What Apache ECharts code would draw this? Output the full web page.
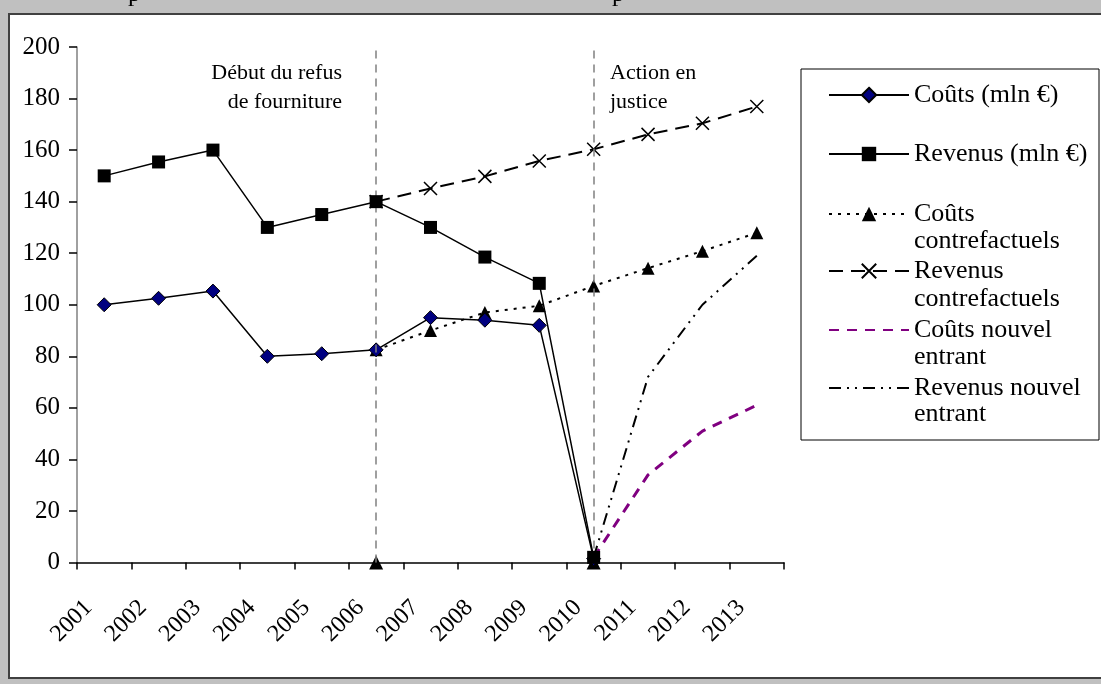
<!DOCTYPE html>
<html>
<head>
<meta charset="utf-8">
<script src="https://cdn.jsdelivr.net/npm/echarts@6/dist/echarts.min.js"></script>
<style>
  html, body { margin: 0; padding: 0; background: #c0c0c0; }
  #chart { width: 1101px; height: 684px; }
</style>
</head>
<body>
<div id="chart"></div>
<script>
// données (mln €)
const years = ['2001', '2002', '2003', '2004', '2005', '2006', '2007', '2008', '2009', '2010', '2011', '2012', '2013'];
const couts = [100, 102.5, 105.3, 80, 81, 82.5, 95, 94, 92, 1.5, null, null, null];
const revenus = [150, 155.4, 160, 130, 135, 140, 130, 118.5, 108.3, 2, null, null, null];
const coutsContrefactuels = [null, null, null, null, null, 82.5, 90, 97, 99.6, 107.3, 114.2, 120.8, 127.9];
const revenusContrefactuels = [null, null, null, null, null, 140, 145.1, 149.8, 155.8, 160.3, 166.1, 170.4, 176.9];
const coutsNouvelEntrant = [null, null, null, null, null, null, null, null, null, 2, 34, 51, 61];
const revenusNouvelEntrant = [null, null, null, null, null, null, null, null, null, 2, 72, 100, 119];
const reperes = [null, null, null, null, null, 0, null, null, null, 0, null, null, null];
const repereYears = ['2006', '2010'];
const yTicks = { min: 0, max: 200, step: 20 };

const serif = "'Liberation Serif', 'Times New Roman', serif";
const crossPath = 'path://M0,0L10,10M10,0L0,10';

// première ligne de légende, la seconde est posée à part
const legendFirst = {
  'Coûts (mln €)': 'Coûts (mln €)',
  'Revenus (mln €)': 'Revenus (mln €)',
  'Coûts contrefactuels': 'Coûts',
  'Revenus contrefactuels': 'Revenus',
  'Coûts nouvel entrant': 'Coûts nouvel',
  'Revenus nouvel entrant': 'Revenus nouvel'
};
const legendRows = [
  { name: 'Coûts (mln €)', y: 91 },
  { name: 'Revenus (mln €)', y: 150 },
  { name: 'Coûts contrefactuels', y: 210, second: 'contrefactuels', y2: 241 },
  { name: 'Revenus contrefactuels', y: 267, second: 'contrefactuels', y2: 299 },
  { name: 'Coûts nouvel entrant', y: 326, second: 'entrant', y2: 357, noMark: true },
  { name: 'Revenus nouvel entrant', y: 384, second: 'entrant', y2: 414, noMark: true }
];

const chart = echarts.init(document.getElementById('chart'));

const legends = legendRows.map(r => {
  const l = {
    data: [r.name],
    left: 828,
    top: r.y - 9,
    padding: 0,
    itemWidth: 80,
    itemHeight: 18,
    selectedMode: false,
    formatter: n => legendFirst[n],
    textStyle: { fontFamily: serif, fontSize: 26, color: '#000' }
  };
  if (r.noMark) l.itemStyle = { color: 'transparent', borderWidth: 0 };
  return l;
});

const secondLines = legendRows.filter(r => r.second).map(r => ({
  type: 'text',
  x: 914,
  y: r.y2,
  silent: true,
  style: { text: r.second, font: '26px ' + serif, fill: '#000', verticalAlign: 'middle' }
}));

chart.setOption({
  animation: false,
  backgroundColor: '#c0c0c0',
  grid: { left: 77, right: 317, top: 47, bottom: 121.5, containLabel: false },
  legend: legends,
  graphic: [
    { type: 'rect', z: -10, silent: true, shape: { x: 9, y: 14, width: 1100, height: 664 },
      style: { fill: '#fff', stroke: '#404040', lineWidth: 2 } },
    { type: 'rect', z: 0, silent: true, shape: { x: 801, y: 69, width: 298, height: 371 },
      style: { fill: 'none', stroke: '#000', lineWidth: 1 } },
    { type: 'text', left: 128, top: -18, silent: true, style: { text: 'p', font: '25px ' + serif, fill: '#000' } },
    { type: 'text', left: 612, top: -18, silent: true, style: { text: 'p', font: '25px ' + serif, fill: '#000' } },
    { type: 'text', silent: true, x: 342, y: 59,
      style: { text: 'Début du refus\nde fourniture', font: '22px ' + serif, fill: '#000', align: 'right', lineHeight: 28.5 } },
    { type: 'text', silent: true, x: 610, y: 59,
      style: { text: 'Action en\njustice', font: '22px ' + serif, fill: '#000', align: 'left', lineHeight: 28.5 } }
  ].concat(secondLines),
  xAxis: {
    type: 'category',
    data: years,
    boundaryGap: true,
    axisLine: { lineStyle: { color: '#000', width: 1.5 } },
    axisTick: { show: true, interval: 0, length: 7, lineStyle: { color: '#000', width: 1.5 } },
    axisLabel: {
      interval: 0, rotate: 45, margin: 26, padding: [0, 22, 0, 0],
      fontFamily: serif, fontSize: 24, color: '#000'
    },
    splitLine: { show: false }
  },
  yAxis: {
    type: 'value',
    min: yTicks.min,
    max: yTicks.max,
    interval: yTicks.step,
    axisLine: { show: true, lineStyle: { color: '#808080', width: 1.5 } },
    axisTick: { show: true, length: 8, lineStyle: { color: '#000', width: 1.5 } },
    axisLabel: { margin: 17, fontFamily: serif, fontSize: 25, color: '#000' },
    splitLine: { show: false }
  },
  series: [
    {
      name: 'repères', type: 'line', data: reperes, z: 1,
      lineStyle: { width: 0 }, symbol: 'triangle', symbolSize: 14, showAllSymbol: true,
      itemStyle: { color: '#000' },
      markLine: {
        silent: true, symbol: 'none', label: { show: false },
        lineStyle: { color: '#808080', type: [8, 6], width: 1.5 },
        data: repereYears.map(y => ({ xAxis: y }))
      }
    },
    {
      name: 'Coûts (mln €)', type: 'line', data: couts, z: 4,
      symbol: 'diamond', symbolSize: 14, showAllSymbol: true,
      lineStyle: { color: '#000', width: 1.5 },
      itemStyle: { color: '#000080', borderColor: '#000', borderWidth: 1 }
    },
    {
      name: 'Revenus (mln €)', type: 'line', data: revenus, z: 5,
      symbol: 'rect', symbolSize: 13, showAllSymbol: true,
      lineStyle: { color: '#000', width: 1.5 },
      itemStyle: { color: '#000' }
    },
    {
      name: 'Coûts contrefactuels', type: 'line', data: coutsContrefactuels, z: 3,
      symbol: 'triangle', symbolSize: 13, showAllSymbol: true,
      lineStyle: { color: '#000', width: 2, type: [3, 6] },
      itemStyle: { color: '#000' }
    },
    {
      name: 'Revenus contrefactuels', type: 'line', data: revenusContrefactuels, z: 3,
      symbol: crossPath, symbolSize: 13, showAllSymbol: true,
      lineStyle: { color: '#000', width: 2, type: [14, 8] },
      itemStyle: { color: 'transparent', borderColor: '#000', borderWidth: 1.5 }
    },
    {
      name: 'Coûts nouvel entrant', type: 'line', data: coutsNouvelEntrant, z: 3,
      symbol: 'none',
      lineStyle: { color: '#800080', width: 3, type: [10, 8] },
      itemStyle: { color: '#800080' }
    },
    {
      name: 'Revenus nouvel entrant', type: 'line', data: revenusNouvelEntrant, z: 3,
      symbol: 'none',
      lineStyle: { color: '#000', width: 2, type: [12, 6, 2, 6, 2, 6] },
      itemStyle: { color: '#000' }
    }
  ]
});
</script>
</body>
</html>
